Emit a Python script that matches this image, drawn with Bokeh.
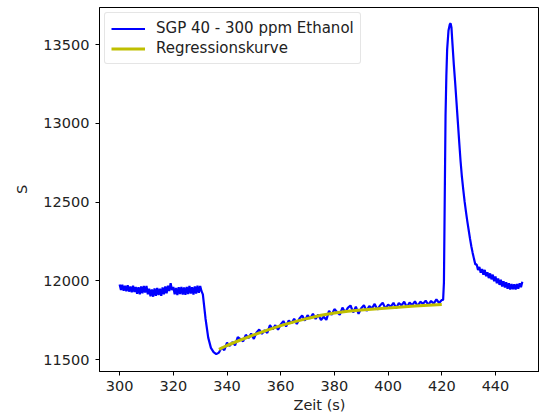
from bokeh.plotting import figure
from bokeh.models import FixedTicker, Range1d, Legend, LegendItem
from bokeh.embed import file_html
from bokeh.resources import INLINE

# --- data ---
# baseline, sampled every 0.5 s from 300 s
v_base = [11978, 11942, 11975, 11938, 11970, 11935, 11972, 11932, 11965, 11928,
          11970, 11930, 11962, 11918, 11960, 11915, 11965, 11922, 11968, 11926,
          11968, 11915, 11950, 11902, 11946, 11900, 11952, 11906, 11955, 11910,
          11950, 11905, 11958, 11915, 11965, 11922, 11970, 11936, 11985, 11942,
          11962, 11915, 11955, 11910, 11960, 11916, 11962, 11914, 11958, 11912,
          11962, 11916, 11968, 11920, 11960, 11914, 11965, 11920, 11970, 11924,
          11968, 11935]
t_base = [300 + 0.5 * i for i in range(len(v_base))]

t_drop = [331, 332, 333, 334, 335, 336]
v_drop = [11915, 11760, 11640, 11575, 11548, 11535]

# recovery, sampled every 1 s from 337 s to 420 s
v_rec = [11545, 11578, 11560, 11608, 11587, 11612, 11591, 11643, 11630, 11617,   # 337-346
         11658, 11637, 11666, 11632, 11673, 11691, 11664, 11687, 11670, 11719,   # 347-356
         11693, 11719, 11690, 11724, 11745, 11711, 11749, 11731, 11760, 11726,   # 357-366
         11761, 11781, 11748, 11782, 11761, 11792, 11759, 11786, 11752, 11773,   # 367-376
         11753, 11810, 11785, 11821, 11803, 11785, 11831, 11800, 11829, 11844,   # 377-386
         11800, 11837, 11791, 11827, 11846, 11810, 11841, 11826, 11854, 11818,   # 387-396
         11844, 11861, 11825, 11850, 11837, 11861, 11826, 11860, 11845, 11868,   # 397-406
         11833, 11863, 11846, 11871, 11840, 11868, 11854, 11875, 11848, 11873,   # 407-416
         11856, 11883, 11860, 11879]                                             # 417-420
t_rec = [337 + i for i in range(len(v_rec))]

t_peak = [420.5, 420.8, 421.0, 421.4, 421.7, 422.0, 422.5, 423.0, 423.3, 423.6, 424.0, 424.5,
          425.0, 425.5, 426.0, 426.5, 427.0, 427.5, 428.0, 428.5, 429.0, 429.5, 430.0, 430.5,
          431.0, 431.5, 432.0, 432.5, 433.0, 433.5, 434.0, 434.5, 435.0, 435.5, 436.0, 436.5,
          437.0, 437.5, 438.0, 438.5, 439.0, 439.5, 440.0, 440.5, 441.0, 441.5, 442.0, 442.5,
          443.0, 443.5, 444.0, 444.5, 445.0, 445.5, 446.0, 446.5, 447.0, 447.5, 448.0, 448.5,
          449.0, 449.5, 450.0]
v_peak = [11880, 11990, 12340, 13050, 13300, 13470, 13590, 13630, 13635, 13610, 13500, 13370,
          13255, 13130, 13005, 12880, 12760, 12660, 12580, 12505, 12440, 12380, 12325, 12270,
          12220, 12178, 12140, 12105, 12105, 12070, 12088, 12052, 12075, 12040, 12070, 12030,
          12055, 12018, 12048, 12010, 12040, 11998, 12028, 11985, 12015, 11975, 12008, 11965,
          11998, 11958, 11992, 11950, 11985, 11945, 11980, 11948, 11978, 11945, 11980, 11950,
          11985, 11960, 11995]

t_reg = [337, 340, 345, 350, 355, 360, 365, 370, 375, 380, 385, 390, 395, 400, 405, 410, 415, 420]
v_reg = [11565, 11590, 11625, 11657, 11688, 11716, 11740, 11762, 11782, 11796, 11807, 11815,
         11822, 11828, 11835, 11841, 11846, 11851]

x_ticks = [300, 320, 340, 360, 380, 400, 420, 440]
y_ticks = [11500, 12000, 12500, 13000, 13500]

t_all = t_base + t_drop + t_rec + t_peak
v_all = v_base + v_drop + v_rec + v_peak

FONT = "DejaVu Sans"
FS = "14.5px"

p = figure(width=539, height=419, output_backend="svg", toolbar_location=None,
           x_range=Range1d(292.5, 456.4), y_range=Range1d(11425, 13736),
           min_border_left=99, min_border_top=7, min_border_right=0, min_border_bottom=48)

r1 = p.line(t_all, v_all, line_color="#0000ff", line_width=2.2)
r2 = p.line(t_reg, v_reg, line_color="#bfbf00", line_width=3)

p.grid.visible = False
p.outline_line_color = "black"
p.outline_line_width = 1
p.background_fill_color = "white"
p.border_fill_color = "white"

for ax in (p.xaxis[0], p.yaxis[0]):
    ax.axis_line_color = "black"
    ax.major_tick_out = 4
    ax.major_tick_in = 0
    ax.minor_tick_out = 0
    ax.minor_tick_in = 0
    ax.major_label_text_font = FONT
    ax.major_label_text_font_size = FS
    ax.major_label_text_color = "#222222"
    ax.axis_label_text_font = FONT
    ax.axis_label_text_font_size = FS
    ax.axis_label_text_font_style = "normal"
    ax.axis_label_text_color = "#222222"

p.xaxis.major_label_standoff = 5
p.xaxis.axis_label_standoff = 3
p.yaxis.major_label_standoff = 6
p.yaxis.axis_label_standoff = 10

p.xaxis.ticker = FixedTicker(ticks=x_ticks)
p.yaxis.ticker = FixedTicker(ticks=y_ticks)
p.xaxis.axis_label = "Zeit (s)"
p.yaxis.axis_label = "S"

legend = Legend(items=[LegendItem(label="SGP 40 - 300 ppm Ethanol", renderers=[r1]),
                       LegendItem(label="Regressionskurve", renderers=[r2])],
                location="top_left")
legend.margin = 5
legend.padding = 6
legend.spacing = 2
legend.glyph_width = 34
legend.glyph_height = 17
legend.label_standoff = 11
legend.label_text_font = FONT
legend.label_text_font_size = "15px"
legend.label_text_color = "#222222"
legend.border_line_color = "#cccccc"
legend.border_line_width = 1
legend.border_radius = 3
legend.background_fill_alpha = 0.9
p.add_layout(legend)

open("out.html", "w").write(file_html(p, INLINE))
